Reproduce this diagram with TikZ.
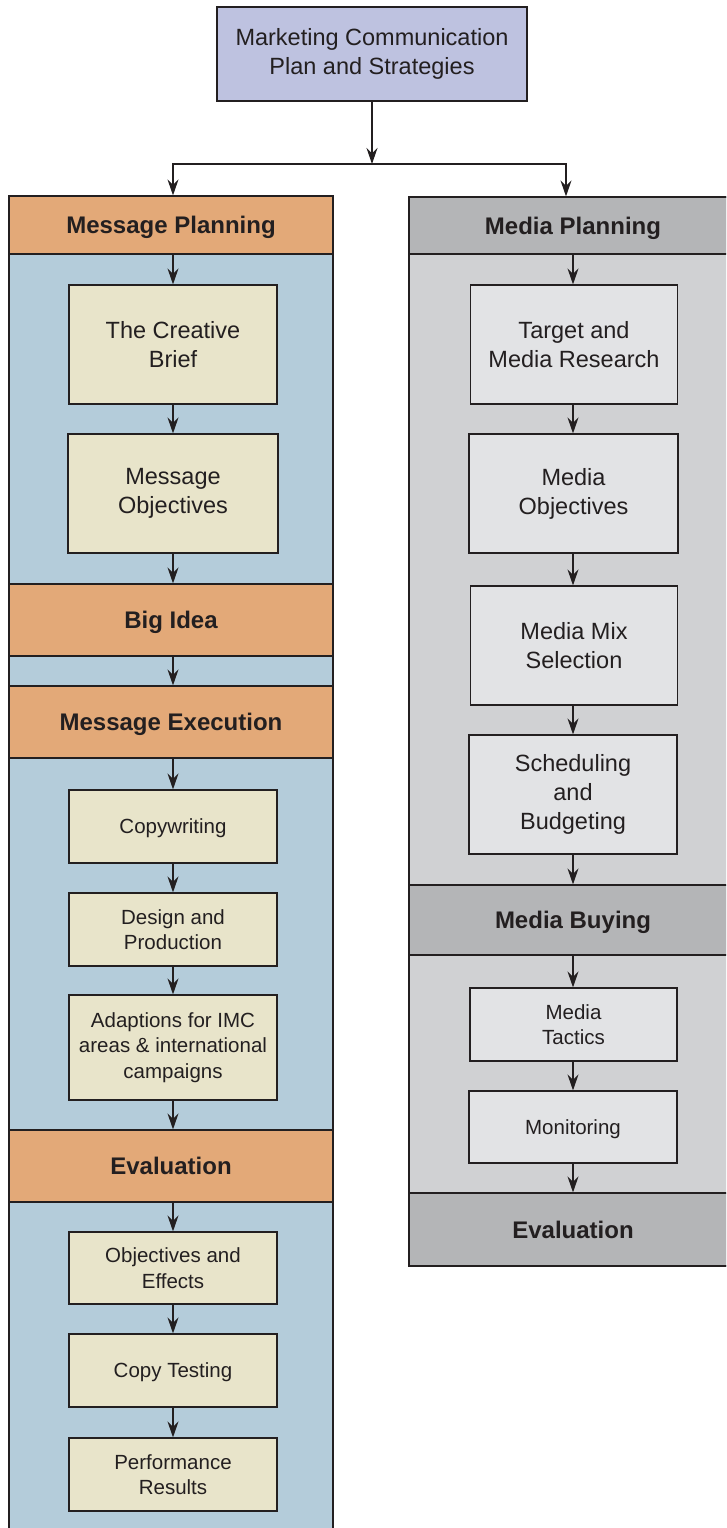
\documentclass[tikz,border=0pt]{standalone}
\usepackage{fontspec}
\setmainfont{Liberation Sans}
\usetikzlibrary{arrows.meta}
\definecolor{inkc}{HTML}{231F20}
\definecolor{topblue}{HTML}{BEC2E0}
\definecolor{orangeband}{HTML}{E3A978}
\definecolor{colblue}{HTML}{B4CCDA}
\definecolor{beigebox}{HTML}{E8E4CA}
\definecolor{greyband}{HTML}{B4B5B7}
\definecolor{greybody}{HTML}{D0D1D3}
\definecolor{lightbox}{HTML}{E2E3E5}
\tikzset{
  base/.style={draw=inkc, line width=1.2pt, text=inkc, rectangle, inner sep=0pt, align=center},
  bigtext/.style={font=\fontsize{23.5pt}{29pt}\selectfont},
  smalltext/.style={font=\fontsize{20.5pt}{25.5pt}\selectfont},
  headtext/.style={font=\fontsize{24pt}{29pt}\selectfont\bfseries, text height=17.2pt, text depth=0pt},
  onesmall/.style={text height=14.7pt, text depth=0pt},
  topbox/.style={base, fill=topblue, bigtext, minimum width=310pt, minimum height=94pt},
  lband/.style={base, fill=orangeband, headtext, minimum width=324pt},
  rband/.style={base, fill=greyband, headtext, minimum width=328pt},
  lbig/.style={base, fill=beigebox, bigtext, minimum width=208pt, minimum height=119pt},
  lsmall/.style={base, fill=beigebox, smalltext, minimum width=208pt, minimum height=73pt},
  rbig/.style={base, fill=lightbox, bigtext, minimum width=207pt, minimum height=119pt},
  rsmall/.style={base, fill=lightbox, smalltext, minimum width=207pt, minimum height=73pt},
  arr/.style={draw=inkc, line width=1.2pt, -{Stealth[length=16pt, width=11pt, inset=5.5pt]}},
}
\begin{document}
\begin{tikzpicture}[x=1pt, y=-1pt]
\useasboundingbox (0,0) rectangle (726,1528);
\begin{scope}
\clip (0,0) rectangle (726,1528);
% column backgrounds
\draw[draw=inkc, line width=1.2pt, fill=colblue] (9,196) rectangle (333,1540);
\draw[draw=inkc, line width=1.2pt, fill=greybody] (409,197) rectangle (740,1266);

% top
\node[topbox] (top) at (372,54) {Marketing Communication\\Plan and Strategies};
\coordinate (j) at (372,164);

% left column
\node[lband, minimum height=58pt] (mplan) at (171,225) {Message Planning};
\node[lbig] (brief) at (173,344.5) {The Creative\\Brief};
\node[lbig, minimum width=210pt] (mobj) at (173,493.5) {Message\\Objectives};
\node[lband, minimum height=72pt] (bigidea) at (171,620) {Big Idea};
\node[lband, minimum height=72pt] (mexec) at (171,722) {Message Execution};
\node[lsmall, onesmall] (copyw) at (173,826.5) {Copywriting};
\node[lsmall] (design) at (173,929.5) {Design and\\Production};
\node[lsmall, minimum height=105pt] (adapt) at (173,1047.5) {Adaptions for IMC\\areas \& international\\campaigns};
\node[lband, minimum height=72pt] (leval) at (171,1166) {Evaluation};
\node[lsmall, minimum height=72pt] (objeff) at (173,1268) {Objectives and\\Effects};
\node[lsmall, onesmall] (copyt) at (173,1370.5) {Copy Testing};
\node[lsmall] (perf) at (173,1474.5) {Performance\\Results};

% right column
\node[rband, minimum height=57pt] (rplan) at (573,225.5) {Media Planning};
\node[rbig] (tmr) at (574,344.5) {Target and\\Media Research};
\node[rbig, minimum width=209pt] (medobj) at (573.5,493.5) {Media\\Objectives};
\node[rbig] (mix) at (574,645.5) {Media Mix\\Selection};
\node[rbig, minimum width=208pt] (sched) at (573,794.5) {Scheduling\\and\\Budgeting};
\node[rband, minimum height=70pt] (mbuy) at (573,920) {Media Buying};
\node[rsmall] (tactics) at (573.5,1024.5) {Media\\Tactics};
\node[rsmall, onesmall, minimum width=208pt, minimum height=72pt] (monitor) at (573,1127) {Monitoring};
\node[rband, minimum height=73pt] (reval) at (573,1229.5) {Evaluation};
\end{scope}

% connectors
\draw[arr] (top.south) -- (j);
\draw[arr] (j) -| ([xshift=2pt]mplan.north);
\draw[arr] (j) -| ([xshift=-7pt]rplan.north);

\draw[arr] (mplan.south -| brief) -- (brief.north);
\draw[arr] (brief) -- (mobj);
\draw[arr] (mobj.south) -- (mobj.south |- bigidea.north);
\draw[arr] (bigidea.south -| mobj) -- (mexec.north -| mobj);
\draw[arr] (mexec.south -| copyw) -- (copyw.north);
\draw[arr] (copyw) -- (design);
\draw[arr] (design) -- (adapt);
\draw[arr] (adapt.south) -- (adapt.south |- leval.north);
\draw[arr] (leval.south -| objeff) -- (objeff.north);
\draw[arr] (objeff) -- (copyt);
\draw[arr] (copyt) -- (perf);

\draw[arr] (rplan.south) -- (rplan.south |- tmr.north);
\draw[arr] (tmr.south -| rplan) -- (medobj.north -| rplan);
\draw[arr] (medobj.south -| rplan) -- (mix.north -| rplan);
\draw[arr] (mix.south -| rplan) -- (sched.north -| rplan);
\draw[arr] (sched.south -| rplan) -- (mbuy.north);
\draw[arr] (mbuy.south) -- (mbuy.south |- tactics.north);
\draw[arr] (tactics.south -| rplan) -- (monitor.north -| rplan);
\draw[arr] (monitor.south -| rplan) -- (reval.north);
\end{tikzpicture}
\end{document}
